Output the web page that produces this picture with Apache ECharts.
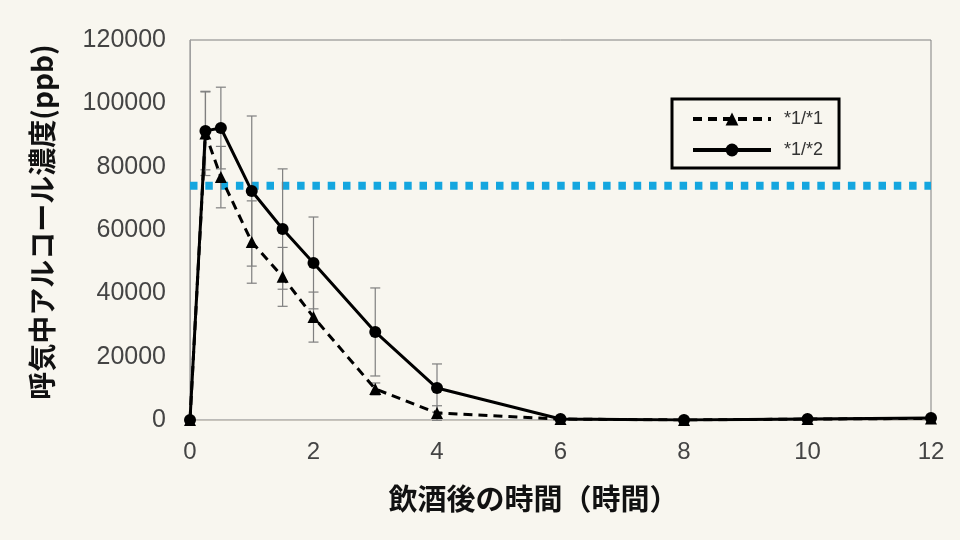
<!DOCTYPE html>
<html>
<head>
<meta charset="utf-8">
<script src="https://cdn.jsdelivr.net/npm/echarts@6/dist/echarts.min.js"></script>
<style>
html,body{margin:0;padding:0;background:#f8f6ef;}
#c{width:960px;height:540px;}
</style>
</head>
<body>
<div id="c"></div>
<script>
// ---- data ----
const times = [0, 0.25, 0.5, 1, 1.5, 2, 3, 4, 6, 8, 10, 12];
const seriesNames = ['*1/*1', '*1/*2'];
const values11 = [0, 90500, 76700, 56200, 45200, 32500, 9800, 2200, 300, 0, 300, 500];
const errors11 = [0, 13300, 9700, 13000, 9300, 7900, 1900, 2300, 300, 200, 300, 300];
const values12 = [0, 91300, 92200, 72300, 60300, 49600, 27800, 10100, 300, 0, 300, 600];
const errors12 = [0, 12300, 12900, 23700, 19000, 14500, 13900, 7600, 400, 200, 300, 300];
const thresholdValue = 74000;
const xTicks = [0, 2, 4, 6, 8, 10, 12];
const yTicks = [0, 20000, 40000, 60000, 80000, 100000, 120000];
const xAxisName = '飲酒後の時間（時間）';
const yAxisName = '呼気中アルコール濃度(ppb)';

const pts = (vals) => times.map((t, i) => [t, vals[i]]);
const errPts = (vals, errs) => times.map((t, i) => [t, vals[i] - errs[i], vals[i] + errs[i]]);

function errRender(params, api) {
  const x = api.value(0);
  const lo = api.coord([x, api.value(1)]);
  const hi = api.coord([x, api.value(2)]);
  const w = 5;
  const st = { stroke: '#7f7f7f', lineWidth: 1.2, fill: null };
  return {
    type: 'group',
    children: [
      { type: 'line', shape: { x1: hi[0], y1: hi[1], x2: lo[0], y2: lo[1] }, style: st },
      { type: 'line', shape: { x1: hi[0] - w, y1: hi[1], x2: hi[0] + w, y2: hi[1] }, style: st },
      { type: 'line', shape: { x1: lo[0] - w, y1: lo[1], x2: lo[0] + w, y2: lo[1] }, style: st }
    ]
  };
}

const chart = echarts.init(document.getElementById('c'), null, { renderer: 'canvas' });
chart.setOption({
  backgroundColor: '#f8f6ef',
  animation: false,
  textStyle: { fontFamily: 'Liberation Sans, Arial, sans-serif' },
  grid: { left: 190, right: 29, top: 40, bottom: 120, show: true, borderColor: '#808080', borderWidth: 1 },
  legend: {
    data: seriesNames,
    orient: 'vertical',
    left: 672, top: 99,
    itemWidth: 78, itemHeight: 16, itemGap: 13,
    padding: [11, 16, 9, 19],
    borderColor: '#000', borderWidth: 3,
    lineStyle: { width: 4 },
    textStyle: { fontSize: 18, color: '#333', padding: [0, 0, 0, 8], fontFamily: 'Liberation Sans, Arial, sans-serif' }
  },
  xAxis: {
    type: 'value', min: 0, max: 12, interval: 2,
    name: xAxisName, nameLocation: 'middle', nameGap: 64,
    nameTextStyle: { fontSize: 29, fontWeight: 'bold', color: '#111', fontFamily: 'Noto Sans CJK JP', padding: [0, 54, 0, 0] },
    axisLine: { show: true, lineStyle: { color: '#c8c4bc', width: 1 } },
    axisTick: { show: false },
    splitLine: { show: false },
    axisLabel: { fontSize: 24, color: '#444', margin: 20,
      formatter: v => xTicks.includes(v) ? String(v) : '' }
  },
  yAxis: {
    type: 'value', min: 0, max: 120000, interval: 20000,
    name: yAxisName, nameLocation: 'middle', nameGap: 134, nameRotate: 90,
    nameTextStyle: { fontSize: 28, fontWeight: 'bold', color: '#111', fontFamily: 'Noto Sans CJK JP', padding: [0, 0, 0, 16] },
    axisLine: { show: true, lineStyle: { color: '#a0a0a0', width: 1 } },
    axisTick: { show: false },
    splitLine: { show: false },
    axisLabel: { fontSize: 25, color: '#444', margin: 24,
      formatter: v => yTicks.includes(v) ? String(v) : '' }
  },
  series: [
    {
      name: 'threshold', type: 'line', data: [[0, thresholdValue], [12, thresholdValue]],
      symbol: 'none', silent: true, z: 1,
      lineStyle: { color: '#14a6df', width: 8, type: [7.5, 7.8] }
    },
    {
      name: 'err11', type: 'custom', renderItem: errRender, data: errPts(values11, errors11),
      encode: { x: 0, y: [1, 2] }, z: 2, silent: true
    },
    {
      name: 'err12', type: 'custom', renderItem: errRender, data: errPts(values12, errors12),
      encode: { x: 0, y: [1, 2] }, z: 2, silent: true
    },
    {
      name: seriesNames[0], type: 'line', data: pts(values11),
      smooth: false,
      symbol: 'triangle', symbolSize: 12, z: 3,
      itemStyle: { color: '#000' },
      lineStyle: { color: '#000', width: 3, type: [9, 6] }
    },
    {
      name: seriesNames[1], type: 'line', data: pts(values12),
      smooth: false,
      symbol: 'circle', symbolSize: 12, z: 4,
      itemStyle: { color: '#000' },
      lineStyle: { color: '#000', width: 3 }
    }
  ]
});
</script>
</body>
</html>
